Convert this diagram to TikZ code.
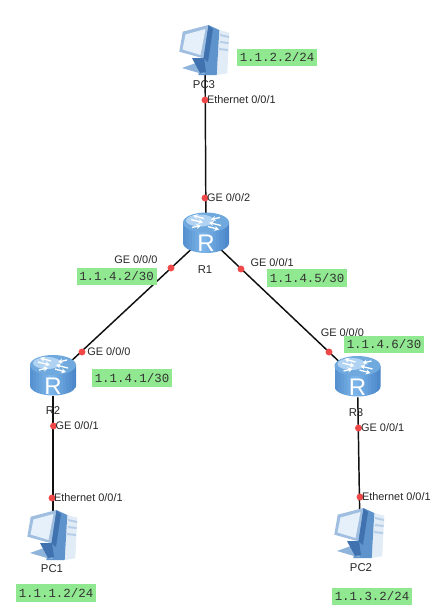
\documentclass[tikz,border=0pt]{standalone}
\usepackage{fontspec}
\setmainfont{Liberation Sans}
\setmonofont{Liberation Mono}
\usepackage{xcolor}
\usetikzlibrary{arrows.meta, positioning}
\definecolor{wire}{HTML}{101010}
\definecolor{portred}{HTML}{F04848}
\definecolor{ipgreen}{HTML}{90E890}
\definecolor{routerdark}{HTML}{4A86C8}
\definecolor{routermid}{HTML}{7DB6EA}
\definecolor{routertop}{HTML}{6FA9DE}
\definecolor{pcblue}{HTML}{5F93CC}
\definecolor{pcdark}{HTML}{3F72AE}
\definecolor{pcscreen}{HTML}{E6F0FA}
\definecolor{pctower}{HTML}{E2ECF6}

\begin{document}
\begin{tikzpicture}[
    x=0.75pt, y=-0.75pt,
    hub/.style={circle, inner sep=0pt, minimum size=27pt},
    link/.style={draw=wire, line width=1.1pt},
    dot/.style={circle, fill=portred, inner sep=0pt, minimum size=5.2pt},
    port/.style={font=\fontsize{8.2}{9}\selectfont, inner sep=0pt, text=black!85},
    hostlbl/.style={font=\fontsize{8.5}{10}\selectfont, inner sep=0pt, text=black!85},
    ipbox/.style={fill=ipgreen, font=\ttfamily\fontsize{9.3}{11}\selectfont, inner sep=0pt,
                  minimum width=60pt, minimum height=13pt, text=black!80},
    arr/.style={white, line width=1pt, -{Stealth[length=3.4pt, width=3.8pt]}},
    routericon/.pic={
        \begin{scope}[shift={(0,-3)}]
        \begin{scope}
            \clip (-23,-10) -- (-23,10.5) .. controls (-23,16) and (-12.7,20.5) .. (0,20.5)
                .. controls (12.7,20.5) and (23,16) .. (23,10.5) -- (23,-10) -- cycle;
            \foreach \i [evaluate=\i as \pct using {100-abs(\i+4)*4}] in {-23,-20,...,22}
                \fill[routermid!\pct!routerdark] (\i,-12) rectangle (\i+3.3,22);
        \end{scope}
        \fill[routertop] (0,-10) ellipse[x radius=23, y radius=10];
        \fill[routermid!60!white] (-6,-12) ellipse[x radius=14, y radius=6];
        \draw[arr] (-15,-13) -- (-3,-10);
        \draw[arr] (-2,-14) -- (-13,-17);
        \draw[arr] (15,-7) -- (3,-10);
        \draw[arr] (2,-6) -- (13,-3);
        \draw[arr] (-14,-5) -- (-5,-7);
        \draw[arr] (14,-15) -- (5,-13);
        \node[text=white, inner sep=0pt, font=\fontsize{18}{18}\selectfont] (letter) at (0,11) {R};
        \end{scope}
    },
    pcicon/.pic={
        % tower
        \fill[pctower] (14.3,-20) -- (24.3,-17.3) -- (22.3,23.3) -- (11.7,25) -- cycle;
        \fill[pcblue!45!white] (15,-16) -- (24,-14) -- (24,-12) -- (15,-14) -- cycle;
        \fill[pcblue!45!white] (15,-9) -- (23.5,-8) -- (23.5,-6) -- (15,-7) -- cycle;
        \fill[pcblue!45!white] (14,-2) -- (23,-1) -- (23,1) -- (14,0) -- cycle;
        \fill[pcblue] (3.3,-25) -- (14.3,-20) -- (11.7,25) -- (-6.7,25) -- cycle;
        % stand
        \fill[pcblue!70!white] (-23,18) -- (-10,13.3) -- (0,24) -- (-5,23.3) -- cycle;
        \fill[pcdark] (-13,8) -- (-1,8) -- (1,22) -- (-5,23) -- cycle;
        % monitor
        \fill[pcdark] (3.3,-25) -- (8,-21) -- (3,12) -- (-1.7,8.3) -- cycle;
        \fill[pcblue!60!white] (-22.3,-18.3) -- (3.3,-25) -- (-1.7,8.3) -- (-25.7,1.7) -- cycle;
        \fill[pcscreen] (-19.5,-15.5) -- (0.5,-21) -- (-4.5,5) -- (-22.5,-0.5) -- cycle;
    },
]
    \useasboundingbox (0,0) rectangle (432,615);

    % routers and hosts
    \node[hub] (r1) at (206,235.5) {};
    \node[hub] (r2) at (53,378) {};
    \node[hub] (r3) at (357.5,379) {};
    \node[hub] (pc3) at (205,50) {};
    \node[hub] (pc1) at (53,535) {};
    \node[hub] (pc2) at (360,533) {};

    \draw[link] (pc3) -- (r1);
    \draw[link] (r1) -- (r2);
    \draw[link] (r1) -- (r3);
    \draw[link] (r2) -- (pc1);
    \draw[link] (r3) -- (pc2);

    \pic (r1icon) at (r1.center) {routericon};
    \pic (r2icon) at (r2.center) {routericon};
    \pic (r3icon) at (r3.center) {routericon};
    \pic at (pc3.center) {pcicon};
    \pic at (pc1.center) {pcicon};
    \pic at (pc2.center) {pcicon};

    \node[hostlbl] (nr1) at (205,270) {R1};
    \node[hostlbl] (nr2) at (53,411) {R2};
    \node[hostlbl] (nr3) at (356,413) {R3};
    \node[hostlbl] (npc3) at (204,85) {PC3};
    \node[hostlbl] (npc1) at (52,569) {PC1};
    \node[hostlbl] (npc2) at (361,568) {PC2};

    % ports
    \node[dot] (p3a) at (205,100) {};
    \node[dot] (p1c) at (205,198) {};
    \node[dot] (p1a) at (171,268) {};
    \node[dot] (p1b) at (241,269) {};
    \node[dot] (p2a) at (82,352) {};
    \node[dot] (p3b) at (329,352) {};
    \node[dot] (p2b) at (53.5,426) {};
    \node[dot] (p3c) at (358.5,428) {};
    \node[dot] (pc1a) at (52,498) {};
    \node[dot] (pc2a) at (360,497) {};

    \node[port, right=-1.5pt of p3a] (l3a) {Ethernet 0/0/1};
    \node[port, right=-1.5pt of p1c] (l1c) {GE 0/0/2};
    \node[port, above left=1pt and 8pt of p1a] (l1a) {GE 0/0/0};
    \node[port, above right=-0.5pt and 5pt of p1b] (l1b) {GE 0/0/1};
    \node[port, right=1pt of p2a] (l2a) {GE 0/0/0};
    \node[port, above=12pt of p3b.north, xshift=10pt, anchor=center] (l3b) {GE 0/0/0};
    \node[port, right=-1.5pt of p2b] (l2b) {GE 0/0/1};
    \node[port, right=-1pt of p3c] (l3c) {GE 0/0/1};
    \node[port, right=-1.5pt of pc1a] (lpc1) {Ethernet 0/0/1};
    \node[port, right=-1.5pt of pc2a] (lpc2) {Ethernet 0/0/1};

    % addresses
    \node[ipbox] (ip3) at (277,57.5) {1.1.2.2/24};
    \node[ipbox] (ip1a) at (116.5,276.5) {1.1.4.2/30};
    \node[ipbox] (ip1b) at (307,278) {1.1.4.5/30};
    \node[ipbox] (ip2) at (132,378) {1.1.4.1/30};
    \node[ipbox] (ip3b) at (384,344.5) {1.1.4.6/30};
    \node[ipbox] (ip1) at (56,593) {1.1.1.2/24};
    \node[ipbox] (ip2b) at (372,596.5) {1.1.3.2/24};
\end{tikzpicture}
\end{document}
